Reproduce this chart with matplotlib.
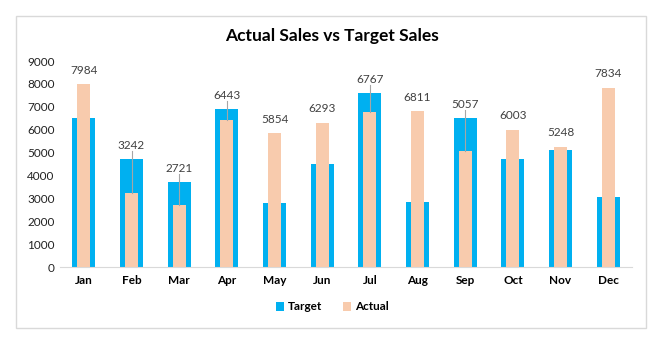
import matplotlib.pyplot as plt
from matplotlib.patches import Rectangle
import numpy as np

plt.rcParams['font.family'] = ['Lato', 'DejaVu Sans']

months = ['Jan', 'Feb', 'Mar', 'Apr', 'May', 'Jun', 'Jul', 'Aug', 'Sep', 'Oct', 'Nov', 'Dec']
target = [6500, 4700, 3700, 6900, 2800, 4500, 7600, 2850, 6500, 4700, 5100, 3050]
actual = [7984, 3242, 2721, 6443, 5854, 6293, 6767, 6811, 5057, 6003, 5248, 7834]

fig = plt.figure(figsize=(6.64, 3.4), dpi=100)
fig.patch.set_facecolor('white')

# outer chart border
fig.patches.append(Rectangle((16 / 664, 1 - 328 / 340), 630 / 664, 312 / 340,
                             transform=fig.transFigure, fill=False,
                             edgecolor='#d9d9d9', linewidth=1))

ax = fig.add_axes([60 / 664, 1 - 267 / 340, 572 / 664, 206 / 340])
x = np.arange(len(months))
ax.bar(x, target, width=0.48, color='#00B0F0', label='Target', zorder=2)
ax.bar(x, actual, width=0.27, color='#F8CBAD', label='Actual', zorder=3)

ax.set_xlim(-0.5, 11.5)
ax.set_ylim(0, 9000)
ax.set_yticks(range(0, 9001, 1000))
ax.set_xticks(x)
ax.set_xticklabels(months, fontweight='bold', fontsize=8.5)
ax.tick_params(axis='y', length=0, labelsize=8.5, pad=4, labelcolor='#222222')
ax.tick_params(axis='x', length=0, pad=6)
for s in ['top', 'right', 'left']:
    ax.spines[s].set_visible(False)
ax.spines['bottom'].set_color('#d9d9d9')

# data labels for actual, with leader lines where target is taller
per_px = 9000 / 206
for i, (t, a) in enumerate(zip(target, actual)):
    top = max(t, a)
    ly = top + 14 * per_px
    ax.text(i, ly, str(a), ha='center', va='center', fontsize=8.5, color='#404040')
    if t > a:
        ax.plot([i, i], [ly - 6 * per_px, a], color='#a6a6a6', lw=0.8, zorder=4)

fig.legend(loc='center', bbox_to_anchor=(0.5, 1 - 307 / 340), ncol=2, frameon=False,
           prop={'weight': 'bold', 'size': 8.5}, handlelength=0.7, handleheight=0.7,
           handletextpad=0.3, columnspacing=1.8)

fig.text(0.5, 1 - 36 / 340, 'Actual Sales vs Target Sales', ha='center', va='center',
         fontsize=12.5, fontweight='bold')

fig.savefig('out.png', dpi=100)
